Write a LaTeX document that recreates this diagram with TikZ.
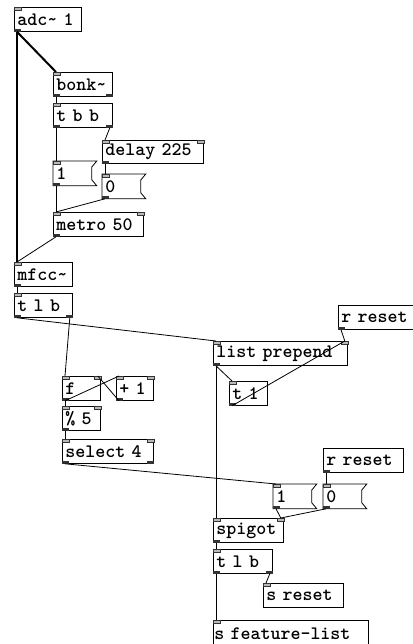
\documentclass[tikz,border=0pt]{standalone}
\usepackage{fontspec}
\usepackage{xcolor}

\tikzset{
pdbox/.style={draw,line width=0.8pt,anchor=north west,inner xsep=3pt,inner ysep=0pt,
  minimum height=24pt,align=left,font=\ttfamily\bfseries\fontsize{19}{19}\selectfont},
pdmsg/.style={pdbox,draw=none},
iolet/.style={fill=gray!55,draw=black!80,line width=0.5pt},
outlet/.style={fill=black!80},
wire/.style={line width=0.8pt},
sigwire/.style={line width=2pt}
}

\begin{document}
\begin{tikzpicture}[x=1pt,y=-1pt]
\useasboundingbox (0,0) rectangle (412,644);

% boxes
\node[pdbox,text width=61pt] (adc) at (14,7) {adc\textasciitilde{} 1};
\node[pdbox,text width=53pt] (bonk) at (53,72) {bonk\textasciitilde};
\node[pdbox,text width=53pt] (tbb) at (53,103) {t b b};
\node[pdbox,text width=95pt,minimum height=23pt] (delay) at (102,140) {delay 225};
\node[pdmsg,text width=32pt] (msgA) at (53,161) {1};
\node[pdmsg,text width=32pt] (msgB) at (102,174) {0};
\node[pdbox,text width=84pt] (metro) at (53,212) {metro 50};
\node[pdbox,text width=52pt] (mfcc) at (14,262) {mfcc\textasciitilde};
\node[pdbox,text width=52pt] (tlb) at (14,293) {t l b};
\node[pdbox,text width=70pt] (rresetA) at (338,305) {r reset};
\node[pdbox,text width=128pt] (listp) at (213,341) {list prepend};
\node[pdbox,text width=32pt] (tone) at (229,381) {t 1};
\node[pdbox,text width=32pt] (f) at (62,376) {f};
\node[pdbox,text width=31pt] (plus) at (116,376) {+ 1};
\node[pdbox,text width=32pt] (mod) at (62,406) {\% 5};
\node[pdbox,text width=85pt] (sel) at (62,439) {select 4};
\node[pdbox,text width=74pt] (rresetB) at (323,448) {r reset};
\node[pdmsg,text width=32pt] (msgC) at (273,484) {1};
\node[pdmsg,text width=32pt] (msgD) at (323,484) {0};
\node[pdbox,text width=64pt] (spigot) at (213,518) {spigot};
\node[pdbox,text width=53pt] (tlbB) at (213,549) {t l b};
\node[pdbox,text width=74pt] (sreset) at (263,583) {s reset};
\node[pdbox,text width=153pt,inner xsep=1pt,minimum height=27pt] (sfl) at (213,620) {s feature-list};

% message flags
\foreach \m in {msgA,msgB,msgC,msgD}
  \draw[line width=0.8pt] ([xshift=5pt]\m.north east) -- (\m.north west) -- (\m.south west)
    -- ([xshift=5pt]\m.south east) -- ([yshift=6pt]\m.south east) -- ([yshift=-6pt]\m.north east) -- cycle;

% inlets and outlets
\foreach \n in {adc,bonk,tbb,delay,msgA,msgB,metro,mfcc,tlb,listp,tone,f,plus,mod,sel,msgC,msgD,spigot,tlbB,sreset,sfl}
  \filldraw[iolet] (\n.north west) rectangle ++(7pt,-3pt);
\foreach \n in {delay,metro,listp,f,plus,mod,sel,spigot}
  \filldraw[iolet] (\n.north east) rectangle ++(-7pt,-3pt);
\foreach \n in {adc,bonk,tbb,delay,msgA,msgB,metro,mfcc,tlb,rresetA,listp,tone,f,plus,mod,sel,rresetB,msgC,msgD,spigot,tlbB}
  \fill[outlet] (\n.south west) rectangle ++(7pt,3pt);
\foreach \n in {bonk,tbb,tlb,sel,tlbB}
  \fill[outlet] (\n.south east) rectangle ++(-7pt,3pt);

% signal connections
\draw[sigwire] ([xshift=3pt]adc.south west) -- ([xshift=3pt]bonk.north west);
\draw[sigwire] ([xshift=3pt]adc.south west) -- ([xshift=3pt]mfcc.north west);

% control connections
\draw[wire] ([xshift=3pt]bonk.south west) -- ([xshift=3pt]tbb.north west);
\draw[wire] ([xshift=3pt]tbb.south west) -- ([xshift=3pt]msgA.north west);
\draw[wire] ([xshift=-3pt]tbb.south east) -- ([xshift=3pt]delay.north west);
\draw[wire] ([xshift=3pt]delay.south west) -- ([xshift=3pt]msgB.north west);
\draw[wire] ([xshift=3pt]msgA.south west) -- ([xshift=3pt]metro.north west);
\draw[wire] ([xshift=3pt]msgB.south west) -- ([xshift=3pt]metro.north west);
\draw[wire] ([xshift=3pt]metro.south west) -- ([xshift=3pt]mfcc.north west);
\draw[wire] ([xshift=3pt]mfcc.south west) -- ([xshift=3pt]tlb.north west);
\draw[wire] ([xshift=3pt]tlb.south west) -- ([xshift=3pt]listp.north west);
\draw[wire] ([xshift=-3pt]tlb.south east) -- ([xshift=3pt]f.north west);
\draw[wire] ([xshift=3pt]f.south west) -- ([xshift=3pt]plus.north west);
\draw[wire] ([xshift=3pt]plus.south west) -- ([xshift=-3pt]f.north east);
\draw[wire] ([xshift=3pt]f.south west) -- ([xshift=3pt]mod.north west);
\draw[wire] ([xshift=3pt]mod.south west) -- ([xshift=3pt]sel.north west);
\draw[wire] ([xshift=3pt]sel.south west) -- ([xshift=3pt]msgC.north west);
\draw[wire] ([xshift=3pt]listp.south west) -- ([xshift=3pt]tone.north west);
\draw[wire] ([xshift=3pt]tone.south west) -- ([xshift=-3pt]listp.north east);
\draw[wire] ([xshift=3pt]rresetA.south west) -- ([xshift=-3pt]listp.north east);
\draw[wire] ([xshift=3pt]listp.south west) -- ([xshift=3pt]spigot.north west);
\draw[wire] ([xshift=3pt]rresetB.south west) -- ([xshift=3pt]msgD.north west);
\draw[wire] ([xshift=3pt]msgC.south west) -- ([xshift=-3pt]spigot.north east);
\draw[wire] ([xshift=3pt]msgD.south west) -- ([xshift=-3pt]spigot.north east);
\draw[wire] ([xshift=3pt]spigot.south west) -- ([xshift=3pt]tlbB.north west);
\draw[wire] ([xshift=3pt]tlbB.south west) -- ([xshift=3pt]sfl.north west);
\draw[wire] ([xshift=-3pt]tlbB.south east) -- ([xshift=3pt]sreset.north west);
\end{tikzpicture}
\end{document}
